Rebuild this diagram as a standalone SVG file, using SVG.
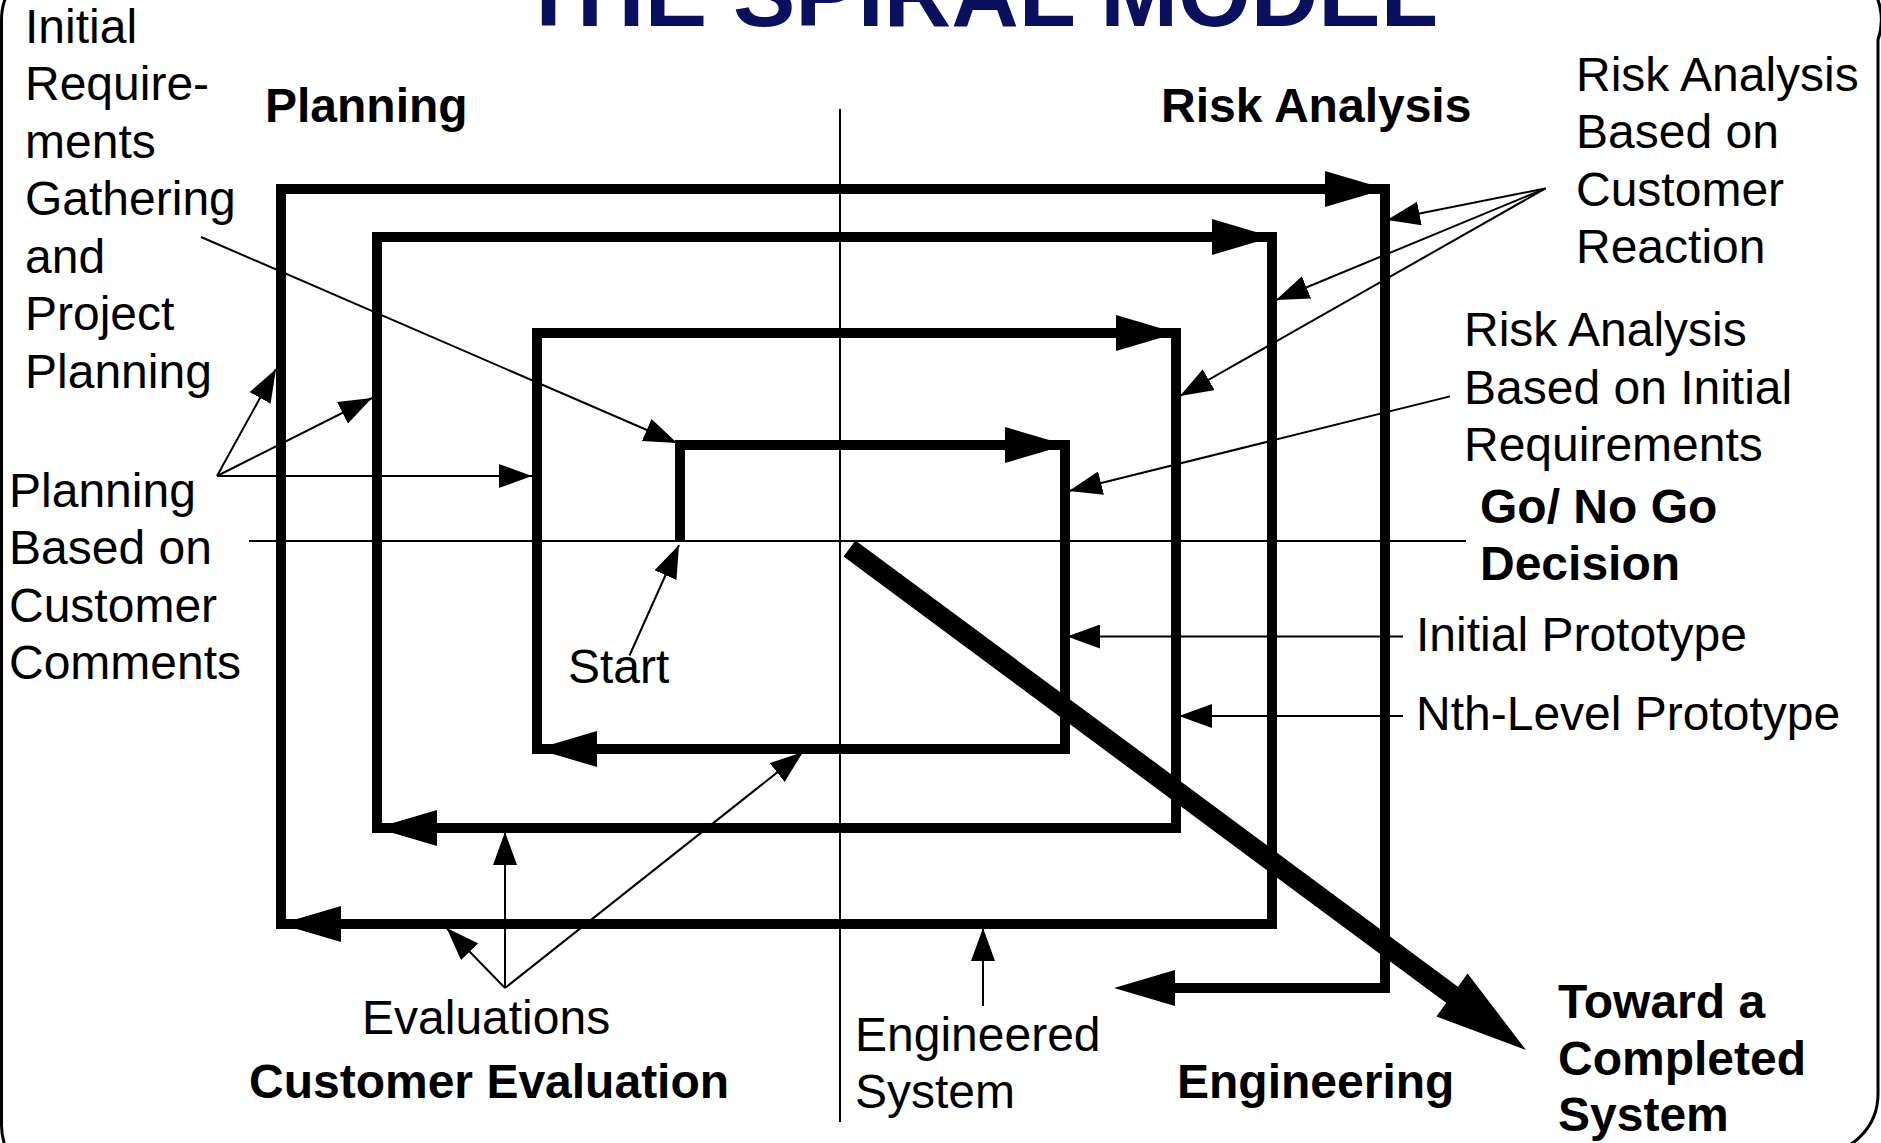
<svg xmlns="http://www.w3.org/2000/svg" width="1881" height="1143" viewBox="0 0 1881 1143">
<defs>
<style>
.t{font-family:"Liberation Sans",Arial,Helvetica,sans-serif;font-size:48px;fill:#000}
.b{font-weight:bold}
.title{font-family:"Liberation Sans",Arial,Helvetica,sans-serif;font-size:93.5px;font-weight:bold;fill:#0a0f5e}
.axis{stroke:#000;stroke-width:2;fill:none}
.spiral{stroke:#000;stroke-width:10;fill:none;stroke-linejoin:miter;stroke-linecap:butt}
.thin{stroke:#000;stroke-width:2;fill:none;marker-end:url(#ah)}
</style>
<marker id="ah" markerUnits="userSpaceOnUse" markerWidth="34" markerHeight="24" refX="33" refY="12" orient="auto">
<path d="M0,0 L33,12 L0,24 Z" fill="#000"/>
</marker>
<path id="big" d="M0,0 L-61,-18 L-61,18 Z" fill="#000"/>
</defs>
<rect width="1881" height="1143" fill="#fff"/>
<path d="M1.5,20 A60,60 0 0 1 61.5,-40 H1818 A60,60 0 0 1 1878,39.7 V1094 A60,60 0 0 1 1818,1154 L61.5,1185 A60,60 0 0 1 1.5,1125 Z" fill="none" stroke="#000" stroke-width="3"/>
<g id="title"><text class="title" x="520" y="26">THE SPIRAL MODEL</text></g>
<g id="axes">
<line class="axis" x1="840" y1="109" x2="840" y2="1122"/>
<line class="axis" x1="249" y1="541" x2="1466" y2="541"/>
</g>
<g id="spiral">
<path class="spiral" d="M680,541 V445 H1065 V749 H537 V333 H1176 V828 H377 V237 H1272 V924 H281 V189 H1385 V988 H1140"/>
<use href="#big" transform="translate(1066,445)"/>
<use href="#big" transform="translate(536,749) rotate(180)"/>
<use href="#big" transform="translate(1177,333)"/>
<use href="#big" transform="translate(376,828) rotate(180)"/>
<use href="#big" transform="translate(1273,237)"/>
<use href="#big" transform="translate(280,924) rotate(180)"/>
<use href="#big" transform="translate(1386,189)"/>
<use href="#big" transform="translate(1114,988) rotate(180)"/>
</g>
<g id="toward-arrow">
<line x1="849.5" y1="548.5" x2="1455" y2="997" stroke="#000" stroke-width="20" stroke-linecap="butt"/>
<polygon points="1526,1050 1467.6,973.6 1436.4,1016.5" fill="#000"/>
</g>
<g id="connectors">
<line class="thin" x1="201" y1="237" x2="677" y2="443"/>
<line class="thin" x1="217" y1="476" x2="276" y2="369"/>
<line class="thin" x1="217" y1="476" x2="372" y2="398"/>
<line class="thin" x1="217" y1="476" x2="532" y2="476"/>
<line class="thin" x1="629.5" y1="655.5" x2="679" y2="545"/>
<line class="thin" x1="505" y1="988" x2="446.6" y2="928"/>
<line class="thin" x1="505" y1="988" x2="505" y2="832"/>
<line class="thin" x1="505" y1="988" x2="803" y2="752"/>
<line class="thin" x1="983" y1="1006" x2="983" y2="928"/>
<line class="thin" x1="1545.5" y1="188.4" x2="1387" y2="220"/>
<line class="thin" x1="1545.5" y1="188.4" x2="1276" y2="300"/>
<line class="thin" x1="1545.5" y1="188.4" x2="1180" y2="396"/>
<line class="thin" x1="1450" y1="396.4" x2="1069" y2="491"/>
<line class="thin" x1="1403" y1="636.5" x2="1067" y2="636.5"/>
<line class="thin" x1="1403" y1="716" x2="1179" y2="716"/>
</g>
<g id="initial-requirements">
<text class="t" x="25" y="42.5">Initial</text>
<text class="t" x="25" y="100">Require-</text>
<text class="t" x="25" y="157.5">ments</text>
<text class="t" x="25" y="215">Gathering</text>
<text class="t" x="25" y="272.5">and</text>
<text class="t" x="25" y="330">Project</text>
<text class="t" x="25" y="387.5">Planning</text>
</g>
<g id="planning-label"><text class="t b" x="265" y="122">Planning</text></g>
<g id="risk-analysis-label"><text class="t b" x="1161" y="122">Risk Analysis</text></g>
<g id="risk-customer-reaction">
<text class="t" x="1576" y="90.5">Risk Analysis</text>
<text class="t" x="1576" y="148">Based on</text>
<text class="t" x="1576" y="205.5">Customer</text>
<text class="t" x="1576" y="263">Reaction</text>
</g>
<g id="risk-initial-requirements">
<text class="t" x="1464" y="346">Risk Analysis</text>
<text class="t" x="1464" y="403.5">Based on Initial</text>
<text class="t" x="1464" y="461">Requirements</text>
</g>
<g id="go-no-go">
<text class="t b" x="1480" y="522.5">Go/ No Go</text>
<text class="t b" x="1480" y="580">Decision</text>
</g>
<g id="initial-prototype"><text class="t" x="1416" y="651">Initial Prototype</text></g>
<g id="nth-prototype"><text class="t" x="1416" y="730">Nth-Level Prototype</text></g>
<g id="planning-customer-comments">
<text class="t" x="9" y="506.5">Planning</text>
<text class="t" x="9" y="564">Based on</text>
<text class="t" x="9" y="621.5">Customer</text>
<text class="t" x="9" y="679">Comments</text>
</g>
<g id="start"><text class="t" x="568" y="683">Start</text></g>
<g id="evaluations"><text class="t" x="362" y="1033.5">Evaluations</text></g>
<g id="customer-evaluation"><text class="t b" x="249" y="1097.5">Customer Evaluation</text></g>
<g id="engineered-system">
<text class="t" x="855" y="1050.5">Engineered</text>
<text class="t" x="855" y="1107.5">System</text>
</g>
<g id="engineering"><text class="t b" x="1177" y="1097.5">Engineering</text></g>
<g id="toward">
<text class="t b" x="1558" y="1018">Toward a</text>
<text class="t b" x="1558" y="1074.5">Completed</text>
<text class="t b" x="1558" y="1130.5">System</text>
</g>
</svg>
